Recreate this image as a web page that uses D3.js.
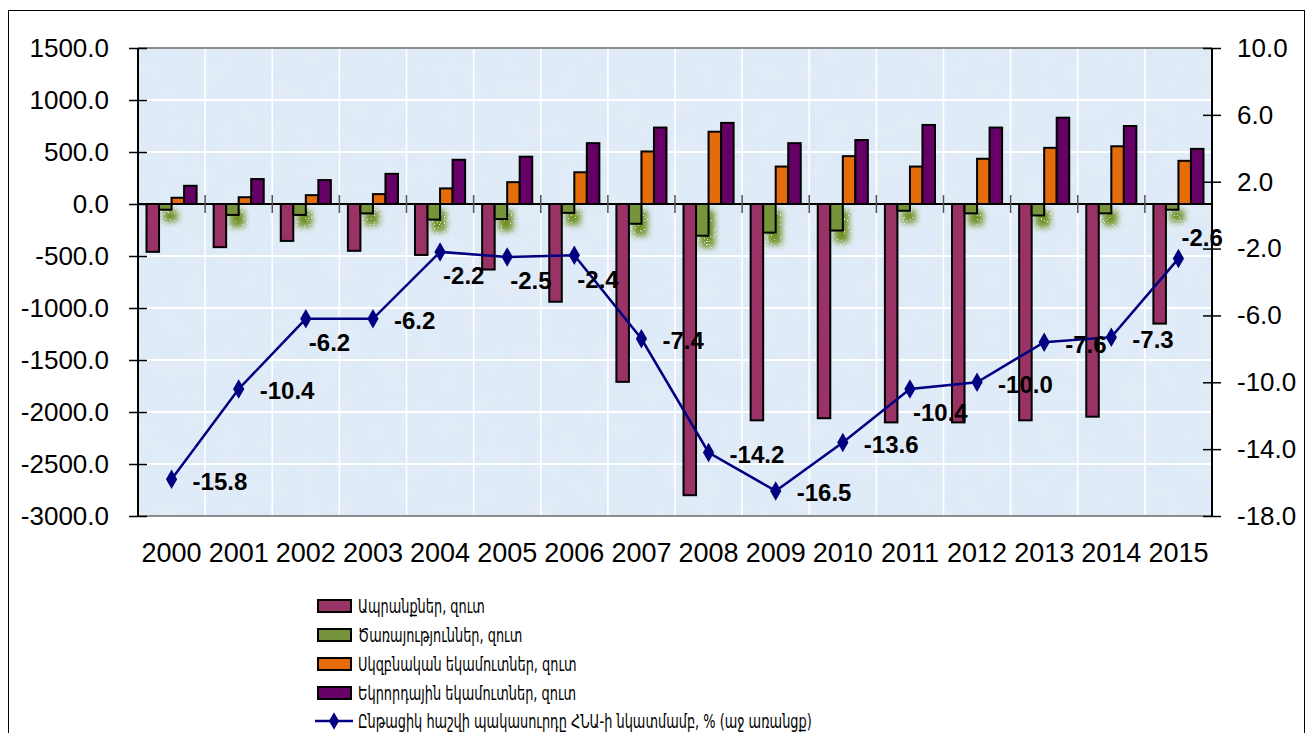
<!DOCTYPE html>
<html>
<head>
<meta charset="utf-8">
<script src="https://cdn.jsdelivr.net/npm/d3@7"></script>
<style>
  body { margin: 0; background: #fff; }
  svg { display: block; }
  text { fill: #000; }
</style>
</head>
<body>
<svg width="1314" height="733"></svg>
<script>
// data
var years = ["2000","2001","2002","2003","2004","2005","2006","2007","2008","2009","2010","2011","2012","2013","2014","2015"];
var goods     = [-460, -415, -355, -450, -490, -630, -940, -1710, -2800, -2080, -2060, -2100, -2100, -2080, -2045, -1150];
var services  = [-55, -105, -105, -90, -150, -145, -85, -190, -305, -275, -255, -65, -90, -110, -90, -55];
var primary   = [60, 65, 85, 95, 150, 210, 305, 505, 695, 360, 460, 360, 435, 540, 555, 415];
var secondary = [175, 240, 230, 290, 425, 455, 585, 735, 780, 585, 615, 760, 735, 830, 750, 530];
var deficit   = [-15.8, -10.4, -6.2, -6.2, -2.2, -2.5, -2.4, -7.4, -14.2, -16.5, -13.6, -10.4, -10.0, -7.6, -7.3, -2.6];
// where each data label sits relative to its marker: r = right, b = below, a = above
var labelSide = ["r","r","b","r","b","b","b","r","r","r","r","b","r","r","r","a"];

var seriesNames = [
  "Ապրանքներ, զուտ",
  "Ծառայություններ, զուտ",
  "Սկզբնական եկամուտներ, զուտ",
  "Եկրորդային եկամուտներ, զուտ"
];
var lineName = "Ընթացիկ հաշվի պակասուրդը ՀՆԱ-ի նկատմամբ, % (աջ առանցք)";
var leftTicks = [-3000, -2500, -2000, -1500, -1000, -500, 0, 500, 1000, 1500];
var rightTicks = [-18, -14, -10, -6, -2, 2, 6, 10];

var colors = ["#993366", "#77933c", "#e46c0a", "#660066"];
var barSeries = [goods, services, primary, secondary];

var svg = d3.select("svg");
var plot = { left: 138, right: 1212, top: 48, bottom: 516 };

var defs = svg.append("defs");

// textured light-blue background
var tex = defs.append("filter").attr("id", "tex").attr("x", 0).attr("y", 0).attr("width", "100%").attr("height", "100%");
tex.append("feTurbulence").attr("type", "fractalNoise").attr("baseFrequency", 0.05).attr("numOctaves", 4).attr("seed", 4).attr("result", "n");
tex.append("feColorMatrix").attr("in", "n").attr("type", "matrix")
   .attr("values", "0 0 0 0 0.80  0 0 0 0 0.86  0 0 0 0 0.93  0.9 0 0 0 -0.3").attr("result", "c");
tex.append("feComposite").attr("in", "c").attr("in2", "SourceGraphic").attr("operator", "atop");

// speckled shadow used under the services bars
var sh = defs.append("filter").attr("id", "speckle").attr("x", "-100%").attr("y", "-100%").attr("width", "300%").attr("height", "300%");
sh.append("feGaussianBlur").attr("in", "SourceGraphic").attr("stdDeviation", 3).attr("result", "b");
sh.append("feOffset").attr("in", "b").attr("dx", 4).attr("dy", 6).attr("result", "o");
sh.append("feTurbulence").attr("type", "fractalNoise").attr("baseFrequency", 1.3).attr("numOctaves", 1).attr("result", "n");
var ct = sh.append("feComponentTransfer").attr("in", "n").attr("result", "t");
ct.append("feFuncA").attr("type", "discrete").attr("tableValues", "0 0 1 1 1 1");
sh.append("feComposite").attr("in", "o").attr("in2", "t").attr("operator", "in");

// outer frame
svg.append("rect").attr("x", 8.5).attr("y", 10.5).attr("width", 1296).attr("height", 740)
   .attr("fill", "#fff").attr("stroke", "#000").attr("stroke-width", 1);

var x0 = d3.scaleBand().domain(years).range([plot.left, plot.right]);
var x1 = d3.scaleBand().domain(d3.range(4)).range([0, x0.bandwidth()]).paddingOuter(0.68);
var yL = d3.scaleLinear().domain([-3000, 1500]).range([plot.bottom, plot.top]);
var yR = d3.scaleLinear().domain([-18, 10]).range([plot.bottom, plot.top]);

svg.append("rect").attr("x", plot.left).attr("y", plot.top)
   .attr("width", plot.right - plot.left).attr("height", plot.bottom - plot.top)
   .attr("fill", "#dfeaf8").attr("filter", "url(#tex)");

// gridlines
svg.append("g").selectAll("line").data(leftTicks).enter().append("line")
   .attr("x1", plot.left).attr("x2", plot.right)
   .attr("y1", function(d) { return yL(d); }).attr("y2", function(d) { return yL(d); })
   .attr("stroke", "#fff").attr("stroke-width", 2.2);
svg.append("g").selectAll("line").data(years.slice(1)).enter().append("line")
   .attr("x1", function(d) { return x0(d); }).attr("x2", function(d) { return x0(d); })
   .attr("y1", plot.top).attr("y2", plot.bottom)
   .attr("stroke", "#fff").attr("stroke-width", 1.6);

// plot frame (top / bottom grey)
svg.append("line").attr("x1", plot.left).attr("x2", plot.right).attr("y1", plot.top).attr("y2", plot.top)
   .attr("stroke", "#8c8c8c").attr("stroke-width", 2);
svg.append("line").attr("x1", plot.left).attr("x2", plot.right).attr("y1", plot.bottom).attr("y2", plot.bottom)
   .attr("stroke", "#8c8c8c").attr("stroke-width", 2);

// services shadows
var groups = svg.append("g");
groups.selectAll("rect.shadow").data(years).enter().append("rect")
   .attr("class", "shadow")
   .attr("x", function(d) { return x0(d) + x1(1); })
   .attr("y", yL(0))
   .attr("width", x1.bandwidth() + 2)
   .attr("height", function(d, i) { return yL(services[i]) - yL(0) + 6; })
   .attr("fill", "#6f9024")
   .attr("filter", "url(#speckle)");

// bars
barSeries.forEach(function(vals, s) {
  groups.append("g").selectAll("rect").data(vals).enter().append("rect")
     .attr("x", function(d, i) { return x0(years[i]) + x1(s); })
     .attr("y", function(d) { return yL(Math.max(0, d)); })
     .attr("width", x1.bandwidth())
     .attr("height", function(d) { return Math.abs(yL(d) - yL(0)); })
     .attr("fill", colors[s])
     .attr("stroke", "#000").attr("stroke-width", 2);
});

// zero line with category ticks
svg.append("line").attr("x1", plot.left).attr("x2", plot.right).attr("y1", yL(0)).attr("y2", yL(0))
   .attr("stroke", "#000").attr("stroke-width", 2);
svg.append("g").selectAll("line").data(years.slice(1)).enter().append("line")
   .attr("x1", function(d) { return x0(d); }).attr("x2", function(d) { return x0(d); })
   .attr("y1", yL(0) - 9).attr("y2", yL(0) + 9)
   .attr("stroke", "#555").attr("stroke-width", 1.5);

// axes
var locale = d3.formatLocale({ decimal: ".", thousands: "", grouping: [3], currency: ["", ""], minus: "-" });
var fmt = locale.format(".1f");
var gl = svg.append("g").attr("transform", "translate(" + plot.left + ",0)")
   .call(d3.axisLeft(yL).tickValues(leftTicks).tickFormat(fmt).tickSize(9).tickPadding(20));
var gr = svg.append("g").attr("transform", "translate(" + plot.right + ",0)")
   .call(d3.axisRight(yR).tickValues(rightTicks).tickFormat(fmt).tickSize(9).tickPadding(16));
[gl, gr].forEach(function(g) {
  g.select(".domain").attr("stroke", "#000").attr("stroke-width", 2);
  g.selectAll(".tick line").attr("stroke", "#000").attr("stroke-width", 1.5);
  g.selectAll(".tick text").attr("font-family", "Liberation Sans, Arial, sans-serif").attr("font-size", 26).attr("fill", "#000");
});
gl.selectAll(".tick line").attr("x1", 9).attr("x2", -9);
gr.selectAll(".tick line").attr("x1", -9).attr("x2", 9);
gl.select(".domain").attr("d", "M0," + plot.top + "V" + plot.bottom);
gr.select(".domain").attr("d", "M0," + plot.top + "V" + plot.bottom);

// year labels
svg.append("g").selectAll("text").data(years).enter().append("text")
   .attr("x", function(d) { return x0(d) + x0.bandwidth() / 2; })
   .attr("y", 562)
   .attr("text-anchor", "middle")
   .attr("font-family", "Liberation Sans, Arial, sans-serif").attr("font-size", 27)
   .text(function(d) { return d; });

// deficit line
var cx = function(i) { return x0(years[i]) + x0.bandwidth() / 2; };
var line = d3.line().x(function(d, i) { return cx(i); }).y(function(d) { return yR(d); });
svg.append("path").datum(deficit).attr("d", line)
   .attr("fill", "none").attr("stroke", "#000080").attr("stroke-width", 2.5);
svg.append("g").selectAll("path").data(deficit).enter().append("path")
   .attr("d", d3.symbol(d3.symbolDiamond, 110))
   .attr("transform", function(d, i) { return "translate(" + cx(i) + "," + yR(d) + ")"; })
   .attr("fill", "#000080");

svg.append("g").selectAll("text").data(deficit).enter().append("text")
   .attr("x", function(d, i) { return cx(i) + (labelSide[i] === "r" ? 21 : 3); })
   .attr("y", function(d, i) {
     var off = labelSide[i] === "r" ? 2 : labelSide[i] === "b" ? 24 : -21;
     return yR(d) + off;
   })
   .attr("dy", "0.35em")
   .attr("font-family", "Liberation Sans, Arial, sans-serif").attr("font-size", 24).attr("font-weight", "bold")
   .text(function(d) { return fmt(d); });

// legend
var legend = svg.append("g").attr("transform", "translate(318,0)");
var rowY = [606, 635, 664, 693, 721];
function legendText(y, label) {
  legend.append("text").attr("transform", "translate(40," + y + ") scale(0.68,1)").attr("dy", "0.35em")
     .attr("font-family", "DejaVu Sans, sans-serif").attr("font-size", 19)
     .text(label);
}
seriesNames.forEach(function(name, s) {
  legend.append("rect").attr("x", 0).attr("y", rowY[s] - 6).attr("width", 33).attr("height", 12)
     .attr("fill", colors[s]).attr("stroke", "#000").attr("stroke-width", 2);
  legendText(rowY[s], name);
});
legend.append("line").attr("x1", -3).attr("x2", 35).attr("y1", rowY[4]).attr("y2", rowY[4])
   .attr("stroke", "#000080").attr("stroke-width", 2.5);
legend.append("path").attr("d", d3.symbol(d3.symbolDiamond, 90))
   .attr("transform", "translate(16," + rowY[4] + ")").attr("fill", "#000080");
legendText(rowY[4], lineName);
</script>
</body>
</html>
